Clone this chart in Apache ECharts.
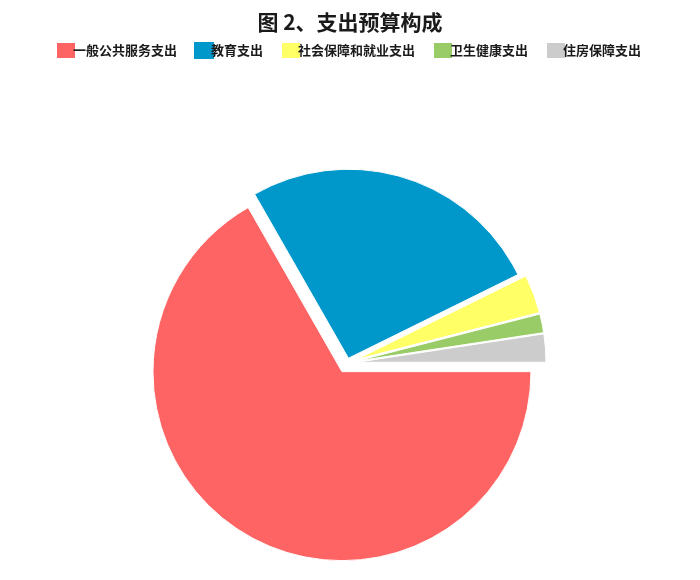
<!DOCTYPE html>
<html>
<head>
<meta charset="utf-8">
<script src="https://cdn.jsdelivr.net/npm/echarts@6/dist/echarts.min.js"></script>
<style>
html,body{margin:0;padding:0;background:#fff;}
#c{width:700px;height:580px;}
</style>
</head>
<body>
<div id="c"></div>
<script>
const titleText = '图 2、支出预算构成';
const categories = ['一般公共服务支出', '教育支出', '社会保障和就业支出', '卫生健康支出', '住房保障支出'];
const shares = [66.8, 26.0, 3.3, 1.6, 2.4];
const colors = ['#FF6464', '#0098CB', '#FFFF66', '#99CC66', '#CCCCCC'];
// slices drawn by the series with the smaller explode offset
const smallOffsetSlices = ['教育支出'];

const chart = echarts.init(document.getElementById('c'), null, {renderer: 'canvas'});
const fontFamily = '"Noto Sans CJK SC", "Noto Sans", sans-serif';

function pieSeries(offset, showSet) {
  return {
    type: 'pie',
    center: [347, 363],
    radius: 189,
    startAngle: 0,
    clockwise: true,
    selectedMode: 'multiple',
    selectedOffset: offset,
    label: {show: false},
    labelLine: {show: false},
    emphasis: {disabled: true},
    tooltip: {show: false},
    data: categories.map((name, i) => {
      const shown = showSet(name);
      const st = shown ? {color: colors[i], borderColor: '#fff', borderWidth: 1}
                       : {color: 'rgba(0,0,0,0)', borderWidth: 0};
      return {
        name: name,
        value: shares[i],
        selected: true,
        itemStyle: st,
        select: {itemStyle: st}
      };
    })
  };
}

chart.setOption({
  animation: false,
  backgroundColor: '#fff',
  title: {
    text: titleText,
    left: 'center',
    top: 7,
    textStyle: {fontFamily: fontFamily, fontSize: 21, fontWeight: 'bold', color: '#1a1a1a'}
  },
  legend: {
    data: categories.map((name, i) => ({name: name, itemStyle: {color: colors[i]}})),
    left: 50,
    top: 36,
    itemWidth: 20,
    itemHeight: 17,
    itemGap: 17,
    icon: 'rect',
    textStyle: {fontFamily: fontFamily, fontSize: 13, fontWeight: 'bold', color: '#1a1a1a', padding: [4, 0, 0, -8]},
    selectedMode: false
  },
  series: [
    pieSeries(10, name => smallOffsetSlices.indexOf(name) < 0),
    pieSeries(5, name => smallOffsetSlices.indexOf(name) >= 0)
  ]
});
</script>
</body>
</html>
